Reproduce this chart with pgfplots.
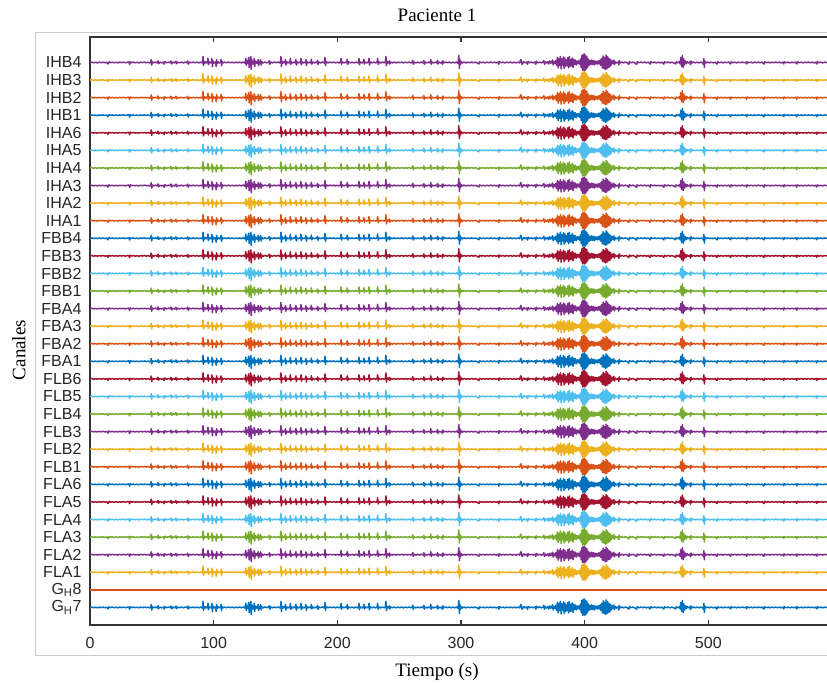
\documentclass[border=0pt]{standalone}
\usepackage{fontspec}
\setmainfont{Liberation Serif}
\newfontfamily\ticksf{Liberation Sans}
\usepackage{pgfplots}
\usepackage{pgfplotstable}
\pgfplotsset{compat=1.18}

\definecolor{mblue}{RGB}{0,114,189}
\definecolor{morange}{RGB}{217,83,25}
\definecolor{myellow}{RGB}{237,177,32}
\definecolor{mpurple}{RGB}{126,47,142}
\definecolor{mgreen}{RGB}{119,172,48}
\definecolor{mcyan}{RGB}{77,190,238}
\definecolor{mred}{RGB}{162,20,47}

% one trace, amplitude in px (1 channel step = 17.6 px)
\pgfplotstableread[row sep=\\]{
t a\\
0 0\\ 1.5 0.3\\ 3 -0.3\\ 4.5 0.2\\ 6 -0.4\\ 7.5 0.3\\ 9 -0.2\\ 10.5 0.3\\ 12 -0.3\\ 13.5 0.2\\
14.5 -1.5\\ 15.3 0.6\\ 16.5 -0.2\\ 18 0.3\\ 19.5 -0.3\\ 21 0.2\\ 22.5 -0.4\\ 24 0.3\\ 25.5 -0.2\\ 27 0.3\\
28.5 -0.3\\ 30 0.2\\ 31.4 0.4\\ 32 -1.8\\ 32.6 0.7\\ 33.5 -0.2\\ 35 0.3\\ 36.5 -0.3\\ 38 0.2\\ 39.5 -0.4\\
41 0.3\\ 42.5 -0.2\\ 44 0.4\\ 45.5 -0.3\\ 47 0.2\\ 48.5 -0.5\\ 49.1 0.5\\ 49.5 2.8\\ 49.9 -2.6\\ 50.4 0.6\\
51.5 -0.3\\ 53 0.4\\ 54.5 -0.5\\ 55 1.6\\ 55.5 -1.2\\ 56.5 0.3\\ 58 -0.4\\ 59.5 0.3\\ 60 -1.7\\ 60.5 0.8\\
62 -0.3\\ 63.5 0.4\\ 65 -0.2\\ 65.5 1.5\\ 66 -1.4\\ 67 0.3\\ 68.5 -0.4\\ 69.5 1.3\\ 70 -1.2\\ 71 0.3\\
72.5 -0.3\\ 74 0.4\\ 75.5 -0.4\\ 77 0.3\\ 78.5 -0.3\\ 79 1.4\\ 79.5 -1.6\\ 80.5 0.4\\ 82 -0.3\\ 83.5 0.4\\
85 -0.3\\ 86.5 0.3\\ 88 -0.4\\ 89.5 0.3\\ 90.6 -0.5\\ 91 0.4\\ 91.4 6.0\\ 91.8 -3.0\\ 92.2 1.2\\ 92.8 -0.8\\
93.6 0.6\\ 94.5 -0.4\\ 95 0.5\\ 95.4 4.2\\ 95.8 -2.2\\ 96.3 0.8\\ 97.2 -0.5\\ 98.2 0.4\\ 98.6 4.0\\ 99 -4.2\\
99.4 1.5\\ 100.2 -0.6\\ 101.2 0.5\\ 101.7 -1.0\\ 102 -4.0\\ 102.4 3.0\\ 102.8 -1.2\\ 103.5 0.6\\ 104.5 -0.5\\ 105.6 0.6\\
106 3.0\\ 106.4 -3.2\\ 106.8 1.0\\ 107.6 -0.4\\ 109 0.3\\ 110.5 -0.3\\ 112 0.4\\ 113.5 -0.3\\ 115 0.3\\ 116.5 -0.4\\
118 0.3\\ 119.5 -0.3\\ 121 0.4\\ 122.5 -0.4\\ 124 0.5\\ 125.2 -0.6\\ 125.6 1.0\\ 126 4.2\\ 126.4 -3.0\\ 126.8 1.5\\
127.4 -1.0\\ 127.9 2.0\\ 128.3 5.0\\ 128.7 -5.2\\ 129.1 2.0\\ 129.6 -1.5\\ 130 6.0\\ 130.4 -7.0\\ 130.8 3.0\\ 131.3 -1.5\\
131.8 1.2\\ 132.4 -1.8\\ 132.8 4.0\\ 133.2 -4.0\\ 133.6 1.5\\ 134.3 -0.8\\ 135 1.0\\ 135.6 -1.2\\ 136 3.0\\ 136.4 -3.2\\
136.8 1.0\\ 137.5 -0.8\\ 138 2.8\\ 138.4 -2.6\\ 138.8 0.8\\ 140 -0.5\\ 141.5 0.5\\ 143 -0.4\\ 144.6 0.5\\ 145 1.8\\
145.4 -2.0\\ 146 0.5\\ 147.5 -0.4\\ 149 0.4\\ 150.5 -0.3\\ 152 0.4\\ 153.6 -0.5\\ 154 0.8\\ 154.4 6.0\\ 154.8 -4.0\\
155.2 1.5\\ 156 -0.6\\ 157 0.6\\ 157.6 -0.5\\ 158 3.0\\ 158.4 -2.6\\ 158.9 0.7\\ 160 -0.6\\ 161.2 0.5\\ 161.6 -0.5\\
162 4.0\\ 162.4 -2.0\\ 162.9 0.6\\ 164 -0.5\\ 165.3 0.6\\ 166.1 -0.6\\ 166.5 3.0\\ 166.9 -2.8\\ 167.4 0.6\\ 168.6 -0.5\\
169.8 0.5\\ 170.2 -0.5\\ 170.6 4.0\\ 171 -2.2\\ 171.5 0.7\\ 172.8 -0.5\\ 174.2 0.4\\ 174.6 2.8\\ 175 -3.0\\ 175.5 0.7\\
176.8 -0.4\\ 178 0.5\\ 178.6 -0.6\\ 179 3.2\\ 179.4 -1.6\\ 180 0.5\\ 181.5 -0.5\\ 183 0.4\\ 183.6 -0.5\\ 184 2.0\\
184.4 -2.0\\ 185 0.5\\ 186.5 -0.4\\ 188 0.5\\ 189.6 -0.6\\ 190 5.0\\ 190.4 -3.0\\ 190.9 0.8\\ 192.5 -0.4\\ 194 0.4\\
195.5 -0.3\\ 197 0.4\\ 198.5 -0.4\\ 200 0.3\\ 201.5 -0.4\\ 202.6 0.5\\ 203 4.0\\ 203.4 -1.8\\ 204 0.6\\ 205.5 -0.4\\
207 0.5\\ 207.6 -0.4\\ 208 3.0\\ 208.4 -1.8\\ 209 0.6\\ 210.5 -0.4\\ 212 0.4\\ 213.5 -0.5\\ 215 0.4\\ 216.5 -0.5\\
217.1 0.6\\ 217.5 4.0\\ 217.9 -2.2\\ 218.5 0.6\\ 220 -0.5\\ 221.1 0.5\\ 221.5 3.2\\ 221.9 -1.6\\ 222.5 0.5\\ 224 -0.4\\
225.2 0.6\\ 225.6 4.0\\ 226 -2.5\\ 226.6 0.6\\ 228 -0.4\\ 229.5 0.4\\ 231 -0.5\\ 232.2 0.6\\ 232.6 4.2\\ 233 -2.0\\
233.6 0.6\\ 235 -0.5\\ 236.5 0.4\\ 238 -0.4\\ 238.9 0.8\\ 239.3 6.0\\ 239.7 -3.2\\ 240.2 1.0\\ 240.8 -0.6\\ 241.6 0.5\\
242 1.6\\ 242.4 -1.6\\ 243 0.5\\ 244.5 -0.4\\ 246 0.4\\ 247.5 -0.4\\ 249 0.3\\ 250.5 -0.3\\ 252 0.4\\ 253.5 -0.4\\
255 0.3\\ 256.5 -0.3\\ 258 0.4\\ 259.5 -0.4\\ 260.6 0.5\\ 261 2.2\\ 261.4 -1.8\\ 262 0.4\\ 263.5 -0.4\\ 265 0.3\\
266.5 -0.4\\ 268 0.4\\ 269.6 -0.5\\ 270 2.0\\ 270.4 -1.8\\ 271 0.4\\ 272.5 -0.4\\ 274 0.4\\ 275.2 -0.6\\ 275.6 3.0\\
276 -1.8\\ 276.6 0.5\\ 278 -0.4\\ 279.5 0.4\\ 280.6 -0.5\\ 281 2.0\\ 281.4 -1.6\\ 282 0.4\\ 283.5 -0.4\\ 284.6 0.4\\
285 -2.0\\ 285.4 1.6\\ 286 -0.4\\ 287.5 0.4\\ 289 -0.3\\ 290.5 0.4\\ 292 -0.4\\ 293.5 0.3\\ 295 -0.4\\ 296.5 0.5\\
297.5 -0.8\\ 297.9 2.0\\ 298.3 7.0\\ 298.7 -6.0\\ 299.1 3.0\\ 299.6 -2.0\\ 300.2 1.0\\ 301 -0.6\\ 302.5 0.4\\ 304 -0.4\\
305.5 0.3\\ 307 -0.3\\ 308.5 0.4\\ 310 -0.3\\ 311.5 0.3\\ 313 -0.4\\ 314.5 -1.5\\ 315 0.6\\ 316.5 -0.3\\ 318 0.3\\
319.5 -0.4\\ 321 0.3\\ 322.5 -0.3\\ 324 0.4\\ 325.5 -0.3\\ 327 0.3\\ 328.5 -0.4\\ 330.2 0.3\\ 330.6 -1.8\\ 331 0.8\\
332.5 -0.3\\ 334 0.3\\ 335.5 -0.4\\ 337 0.3\\ 338.5 -0.3\\ 340 0.4\\ 341.5 -0.4\\ 343 0.3\\ 344.5 -0.4\\ 346 0.3\\
347.4 -0.4\\ 347.9 1.5\\ 348.4 3.0\\ 348.9 0.5\\ 349.4 -1.8\\ 350 -0.6\\ 350.8 0.8\\ 351.8 -0.4\\ 353 0.4\\ 353.8 -1.8\\
354.3 1.0\\ 355.5 -0.3\\ 357 0.4\\ 358.5 -0.4\\ 360 0.5\\ 360.5 -1.8\\ 361 1.2\\ 362 -0.4\\ 363.5 0.5\\ 365 -0.5\\
366.5 0.6\\ 367 2.0\\ 367.5 -1.8\\ 368.3 0.6\\ 369.3 -0.6\\ 370.2 0.8\\ 371 -1.5\\ 371.8 1.5\\ 372.6 -0.8\\ 373.5 0.8\\
374 2.5\\ 374.5 -2.4\\ 375.2 1.0\\ 376 -1.0\\ 376.7 2.0\\ 377.3 -3.0\\ 378 5.0\\ 378.6 -5.5\\ 379.2 4.0\\ 379.8 -3.0\\
380.4 6.0\\ 381 -6.5\\ 381.6 3.5\\ 382.2 -2.5\\ 382.8 5.5\\ 383.4 -6.0\\ 384 4.5\\ 384.6 -4.0\\ 385.2 2.5\\ 385.8 -3.0\\
386.4 5.0\\ 387 -5.5\\ 387.6 6.0\\ 388.2 -4.0\\ 388.8 3.0\\ 389.4 -3.5\\ 390 4.5\\ 390.6 -5.0\\ 391.2 3.0\\ 391.8 -2.0\\
392.5 2.5\\ 393.2 -2.5\\ 393.9 1.5\\ 394.6 -1.2\\ 395.3 1.5\\ 396 -2.0\\ 396.6 3.5\\ 397.2 -5.0\\ 397.8 7.0\\ 398.3 -8.0\\
398.8 8.0\\ 399.3 -7.5\\ 399.8 8.5\\ 400.3 -8.0\\ 400.8 7.0\\ 401.3 -6.5\\ 401.8 6.0\\ 402.3 -5.0\\ 402.9 3.5\\ 403.5 -3.0\\
404.2 2.0\\ 404.9 -2.2\\ 405.6 2.5\\ 406.3 -2.0\\ 407 2.0\\ 407.7 -2.5\\ 408.4 1.5\\ 409.1 -1.5\\ 409.8 1.2\\ 410.5 -1.5\\
411.2 1.8\\ 411.9 -1.6\\ 412.6 2.5\\ 413.2 -3.0\\ 413.8 4.0\\ 414.4 -5.5\\ 415 6.5\\ 415.6 -6.0\\ 416.2 5.0\\ 416.8 -7.0\\
417.4 7.5\\ 418 -6.5\\ 418.6 6.0\\ 419.2 -5.0\\ 419.8 4.0\\ 420.4 -4.5\\ 421 3.0\\ 421.6 -2.5\\ 422.3 1.5\\ 423 -1.0\\
423.6 2.5\\ 424.1 -2.2\\ 424.8 0.8\\ 426 -0.6\\ 427.2 0.6\\ 427.6 -2.5\\ 428 2.0\\ 428.6 -0.5\\ 430 0.4\\ 431.5 -0.4\\
433 0.4\\ 434.5 -0.4\\ 435.7 -1.8\\ 436.2 0.8\\ 437.5 -0.3\\ 439 0.4\\ 440.5 -0.4\\ 442 -1.8\\ 442.5 0.7\\ 444 -0.3\\
445.5 0.4\\ 447 -0.3\\ 448.5 0.4\\ 450 -0.4\\ 451.5 0.3\\ 453 -1.6\\ 453.5 0.7\\ 455 -0.3\\ 456.5 0.4\\ 458 -0.4\\
459.5 0.3\\ 461 -0.4\\ 462.5 0.3\\ 464 -1.6\\ 464.5 0.6\\ 466 -0.3\\ 467.5 0.4\\ 469 -0.4\\ 470.5 0.3\\ 472 -0.4\\
473.5 -1.5\\ 474 0.6\\ 475.5 -0.4\\ 476.6 0.8\\ 477.2 -1.5\\ 477.8 5.0\\ 478.4 -4.0\\ 479 7.0\\ 479.6 -5.0\\ 480.2 3.5\\
480.8 -2.5\\ 481.5 1.5\\ 482.2 -1.2\\ 483 0.8\\ 484 -0.5\\ 485.2 0.6\\ 485.6 -2.2\\ 486 1.5\\ 486.8 -0.5\\ 488 0.4\\
489.5 -0.4\\ 491 0.3\\ 492.5 -0.4\\ 494 0.3\\ 495.6 -0.6\\ 496 -2.0\\ 496.4 4.0\\ 496.8 -5.0\\ 497.2 1.5\\ 498 -0.5\\
499.5 0.4\\ 501 -0.4\\ 502.5 0.3\\ 504 -0.4\\ 505.5 0.3\\ 507 -1.6\\ 507.5 0.6\\ 509 -0.3\\ 510.5 0.3\\ 512 -0.4\\
513.5 0.3\\ 515 -0.3\\ 516.5 0.4\\ 518 -1.5\\ 518.5 0.6\\ 520 -0.3\\ 521.5 0.3\\ 523 -0.4\\ 524.5 0.3\\ 526 -0.3\\
527.5 0.4\\ 529 -0.3\\ 530.5 0.3\\ 531 -1.5\\ 531.5 0.6\\ 533 -0.3\\ 534.5 0.3\\ 536 -0.4\\ 537.5 0.3\\ 539 -0.3\\
540.5 0.4\\ 542 -0.3\\ 543.5 0.3\\ 545 -1.6\\ 545.5 0.6\\ 547 -0.3\\ 548.5 0.3\\ 550 -0.4\\ 551.5 0.3\\ 553 -0.3\\
554.5 0.4\\ 556 -0.3\\ 557.5 0.3\\ 559 -0.4\\ 560.5 0.3\\ 561 -1.4\\ 561.5 0.6\\ 563 -0.3\\ 564.5 0.3\\ 566 -0.4\\
567.5 0.3\\ 569 -0.3\\ 570.5 0.4\\ 571.5 -1.5\\ 572 0.6\\ 573.5 -0.3\\ 575 0.3\\ 576.5 -0.4\\ 578 0.3\\ 579.5 -0.3\\
581 0.4\\ 582.5 -0.3\\ 584 0.3\\ 585.5 -0.4\\ 587 0.3\\ 587.7 -1.5\\ 588.2 0.6\\ 589.5 -0.3\\ 591 0.3\\ 592.5 -0.4\\
594 0.3\\ 596 -0.2\\ 598.4 0.1\\
}\sig

\begin{document}
\begin{tikzpicture}
\useasboundingbox (0pt,0pt) rectangle (827pt,684pt);
\draw[black!20, line width=1pt] (35pt,28pt) rectangle (845pt,651pt);
\begin{axis}[
    at={(90pt,59pt)}, anchor=south west,
    scale only axis,
    width=740pt, height=588pt,
    xmin=0, xmax=598.4,
    ymin=0, ymax=33.45,
    xtick={0,100,...,500},
    ytick={1,...,32},
    yticklabels={{G\textsubscript{H}7},{G\textsubscript{H}8},FLA1,FLA2,FLA3,FLA4,FLA5,FLA6,
        FLB1,FLB2,FLB3,FLB4,FLB5,FLB6,FBA1,FBA2,FBA3,FBA4,FBB1,FBB2,FBB3,FBB4,
        IHA1,IHA2,IHA3,IHA4,IHA5,IHA6,IHB1,IHB2,IHB3,IHB4},
    tick align=inside,
    major tick length=5pt,
    ytick style={draw=none},
    xtick style={line width=1.2pt, black!80},
    axis line style={line width=1.4pt, black!80},
    tick label style={font=\ticksf\fontsize{16}{19}\selectfont, text=black!85},
    xticklabel style={yshift=-9pt},
    yticklabel style={xshift=-5pt},
    /pgf/number format/assume math mode=true,
    cycle list={{mblue},{morange},{myellow},{mpurple},{mgreen},{mcyan},{mred}},
    every axis plot/.append style={line width=1.5pt, line join=round},
]
\addplot table[x=t, y expr=\thisrow{a}/17.6+1]{\sig};
\addplot[morange, line width=1.6pt] coordinates {(0,2) (598.4,2)};
\pgfplotsinvokeforeach{3,...,32}{
  \addplot table[x=t, y expr=\thisrow{a}/17.6+#1]{\sig};
}
\end{axis}
\node[font=\fontsize{19}{22}\selectfont] at (437pt,669pt) {Paciente 1};
\node[font=\fontsize{19}{22}\selectfont] at (437pt,12pt) {Tiempo (s)};
\node[font=\fontsize{19}{22}\selectfont, rotate=90] at (19pt,334pt) {Canales};
\end{tikzpicture}
\end{document}
